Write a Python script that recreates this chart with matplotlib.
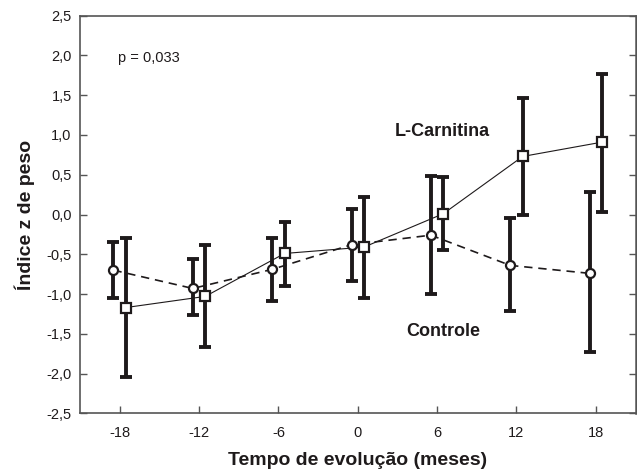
import matplotlib
matplotlib.use("Agg")
import matplotlib.pyplot as plt
from matplotlib.ticker import FixedLocator, FuncFormatter

plt.rcParams['font.family'] = ['Liberation Sans', 'DejaVu Sans']

# Data
months = [-18, -12, -6, 0, 6, 12, 18]
controle_mean = [-0.70, -0.93, -0.69, -0.38, -0.26, -0.64, -0.74]
controle_upper = [-0.34, -0.56, -0.29, 0.065, 0.49, -0.05, 0.28]
controle_lower = [-1.055, -1.27, -1.09, -0.84, -1.00, -1.21, -1.73]
carnitina_mean = [-1.17, -1.03, -0.49, -0.41, 0.01, 0.73, 0.91]
carnitina_upper = [-0.29, -0.38, -0.09, 0.22, 0.47, 1.47, 1.77]
carnitina_lower = [-2.04, -1.67, -0.90, -1.05, -0.45, -0.01, 0.03]
x_ticks = [-18, -12, -6, 0, 6, 12, 18]
y_ticks = [-2.5, -2.0, -1.5, -1.0, -0.5, 0.0, 0.5, 1.0, 1.5, 2.0, 2.5]

ink = '#1e1a1b'
offset = 0.47

fig = plt.figure(figsize=(6.37, 4.71), dpi=100)
ax = fig.add_axes([80/637, 1-413.3/471, (635.5-80)/637, (413.3-15.7)/471])

xc = [m - offset for m in months]
xs = [m + offset for m in months]

c_err = [[m - l for m, l in zip(controle_mean, controle_lower)],
         [u - m for m, u in zip(controle_mean, controle_upper)]]
s_err = [[m - l for m, l in zip(carnitina_mean, carnitina_lower)],
         [u - m for m, u in zip(carnitina_mean, carnitina_upper)]]

ax.errorbar(xc, controle_mean, yerr=c_err, fmt='none', ecolor=ink,
            elinewidth=2.8, capsize=4.5, capthick=2.8, zorder=2)
ax.errorbar(xs, carnitina_mean, yerr=s_err, fmt='none', ecolor=ink,
            elinewidth=2.8, capsize=4.5, capthick=2.8, zorder=2)

ax.plot(xc, controle_mean, linestyle=(0, (5, 3.5)), color=ink, lw=1.2, zorder=3)
ax.plot(xs, carnitina_mean, linestyle='-', color=ink, lw=0.8, zorder=3)
ax.plot(xc, controle_mean, 'o', ms=6.5, mfc='white', mec=ink, mew=1.6, zorder=4)
ax.plot(xs, carnitina_mean, 's', ms=6.5, mfc='white', mec=ink, mew=1.6, zorder=4)

ax.set_xlim(-21, 21)
ax.set_ylim(-2.5, 2.5)
ax.xaxis.set_major_locator(FixedLocator(x_ticks))
ax.yaxis.set_major_locator(FixedLocator(y_ticks))
ax.yaxis.set_major_formatter(FuncFormatter(lambda v, p: f"{v:.1f}".replace('.', ',').replace('\u2212', '-')))
ax.xaxis.set_major_formatter(FuncFormatter(lambda v, p: f"{int(round(v))}"))

ax.tick_params(axis='both', direction='in', length=5, width=1, color='#555555',
               labelsize=10.5, labelcolor=ink, pad=9)
ax.tick_params(axis='y', right=True, pad=6)
ax.tick_params(axis='x', top=False)

for side in ['left', 'bottom', 'top', 'right']:
    ax.spines[side].set_color('#555555')
    ax.spines[side].set_linewidth(1.2)
ax.spines['right'].set_linewidth(1.8)

ax.set_xlabel('Tempo de evolução (meses)', fontsize=14, fontweight='bold', color=ink, labelpad=9)
ax.set_ylabel('Índice z de peso', fontsize=14, fontweight='bold', color=ink, labelpad=8)

ax.text(0.069, 0.893, 'p = 0,033', transform=ax.transAxes, fontsize=10.5, color=ink,
        ha='left', va='center')
ax.text(6.37, 1.04, 'L-Carnitina', fontsize=13, fontweight='bold',
        color=ink, ha='center', va='center')
ax.text(3.7, -1.475, 'Controle', fontsize=13, fontweight='bold', color=ink,
        ha='left', va='center')

fig.savefig('out.png', dpi=100)
